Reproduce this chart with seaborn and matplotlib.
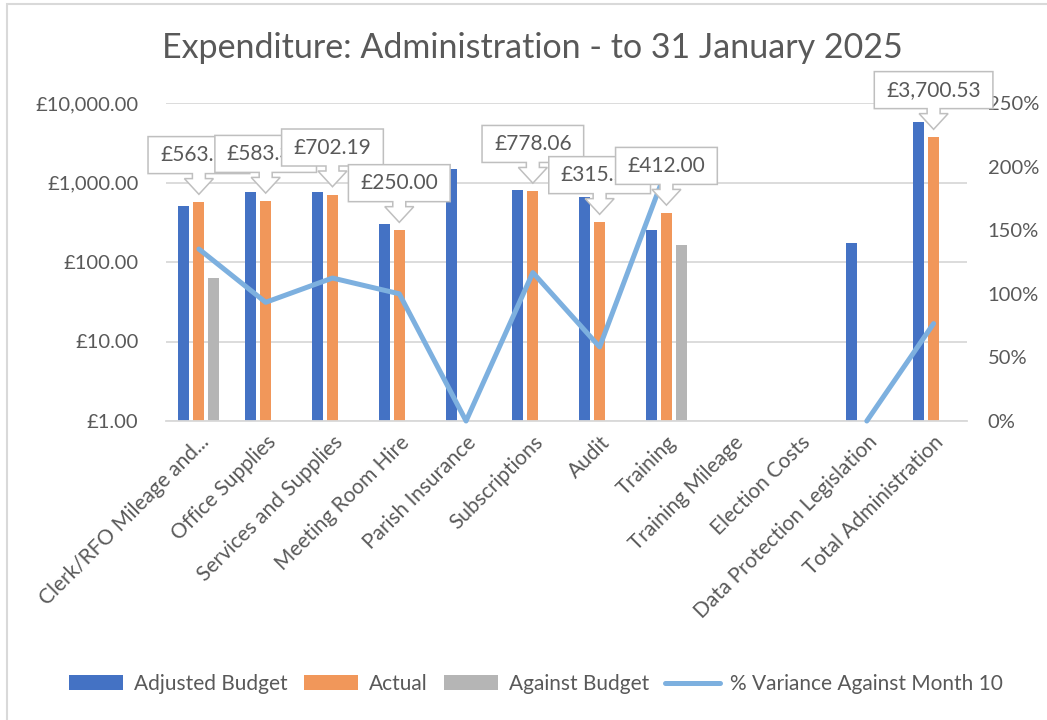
import numpy as np
import pandas as pd
import seaborn as sns
import matplotlib.pyplot as plt
import matplotlib.transforms as mtransforms
from matplotlib.patches import Polygon, Patch, Rectangle
from matplotlib.lines import Line2D
from matplotlib.ticker import FuncFormatter, PercentFormatter, NullLocator

nan = np.nan

# Werte
categories = ["Clerk/RFO Mileage and...", "Office Supplies", "Services and Supplies",
              "Meeting Room Hire", "Parish Insurance", "Subscriptions", "Audit", "Training",
              "Training Mileage", "Election Costs", "Data Protection Legislation",
              "Total Administration"]
adjusted_budget = [500, 750, 750, 300, 1500, 800, 650, 250, nan, nan, 175, 5800]
actual = [563.50, 583.30, 702.19, 250.00, nan, 778.06, 315.50, 412.00, nan, nan, nan, 3700.53]
against_budget = [63.50, nan, nan, nan, nan, nan, nan, 162.00, nan, nan, nan, nan]
variance_pct = [1.352, 0.933, 1.124, 1.000, 0.0, 1.167, 0.582, 1.978, nan, nan, 0.0, 0.766]

series_names = ["Adjusted Budget", "Actual", "Against Budget"]
bar_colors = ["#4472C4", "#F1975A", "#B5B5B5"]
line_color = "#7DB0DF"
line_name = "% Variance Against Month 10"
title = "Expenditure: Administration - to 31 January 2025"
TXT = "#595959"
GRID = "#D9D9D9"

sns.set_theme(style="white")
plt.rcParams['font.family'] = ['Lato', 'DejaVu Sans']

W, H = 1047, 720
fig = plt.figure(figsize=(W / 100, H / 100), dpi=100)
ax = fig.add_axes([165.5 / W, 1 - 421 / H, (967 - 165.5) / W, (421 - 103) / H])

# Balken
df = pd.DataFrame({"category": categories, "Adjusted Budget": adjusted_budget,
                   "Actual": actual, "Against Budget": against_budget})
df = df.melt(id_vars="category", var_name="series", value_name="value")
sns.barplot(data=df, x="category", y="value", hue="series", order=categories,
            hue_order=series_names, palette=bar_colors, width=0.674, gap=0.265,
            errorbar=None, saturation=1, linewidth=0, legend=False, ax=ax)

ax.set_yscale("log")
ax.set_ylim(1, 10000)
ax.set_xlim(-0.5, len(categories) - 0.5)
ax.set_yticks([1, 10, 100, 1000, 10000])
ax.yaxis.set_minor_locator(NullLocator())
ax.yaxis.set_major_formatter(FuncFormatter(lambda v, p: f"£{v:,.2f}"))
ax.grid(axis="y", color=GRID, lw=1.3)
ax.grid(axis="x", visible=False)
ax.set_axisbelow(True)
for s in ["left", "right", "top"]:
    ax.spines[s].set_visible(False)
ax.spines["bottom"].set_color(GRID)
ax.spines["bottom"].set_linewidth(1.3)
ax.tick_params(axis="y", length=0, pad=19.5, labelsize=14.5, labelcolor=TXT)
ax.tick_params(axis="x", length=0, pad=8, labelsize=15, labelcolor=TXT)
ax.set_xlabel("")
ax.set_ylabel("")

# Linie auf der zweiten Achse
ax2 = ax.twinx()
yv = np.array(variance_pct, dtype=float)
line_df = pd.DataFrame({"x": np.arange(len(categories)), "y": yv,
                        "seg": np.cumsum(np.isnan(yv))}).dropna()
sns.lineplot(data=line_df, x="x", y="y", units="seg", estimator=None, color=line_color,
             lw=3.6, legend=False, ax=ax2)
for ln in ax2.lines:
    ln.set_clip_on(False)
    ln.set_solid_joinstyle("round")
    ln.set_solid_capstyle("round")
ax2.set_ylim(0, 2.5)
ax2.set_yticks(np.arange(0, 2.51, 0.5))
ax2.yaxis.set_major_formatter(PercentFormatter(1.0, decimals=0))
ax2.grid(False)
for s in ax2.spines.values():
    s.set_visible(False)
ax2.tick_params(axis="y", length=0, pad=15, labelsize=14.5, labelcolor=TXT)
ax2.set_ylabel("")
ax2.set_xlabel("")

ax.set_xticks(range(len(categories)))
ax.set_xticklabels(categories, rotation=45, ha="right", rotation_mode="anchor")

# Titel, Rahmen, Legende
fig.text(532 / W, 1 - 48 / H, title, ha="center", va="center", fontsize=24.5, color=TXT)
fig.add_artist(Rectangle((7, -20), 1100, H - 4 + 20, transform=mtransforms.IdentityTransform(),
                         fill=False, ec=GRID, lw=1.5))
handles = [Patch(fc=c, ec="none") for c in bar_colors] + [Line2D([], [], color=line_color, lw=3.6)]
fig.legend(handles, series_names + [line_name], loc="center",
           bbox_to_anchor=(536 / W, 1 - 684 / H), ncol=4, frameon=False, fontsize=15,
           handlelength=2.6, handleheight=0.7, handletextpad=0.5, columnspacing=0.8,
           labelcolor=TXT)

# Datenbeschriftungen als Legenden-Pfeile
fig.canvas.draw()
renderer = fig.canvas.get_renderer()
ident = mtransforms.IdentityTransform()
k = 0
for i, v in enumerate(actual):
    if np.isnan(v):
        continue
    cx, ty = ax.transData.transform((i, v))
    ty += 8
    yb = ty + 20.7
    yt = yb + 37
    t = fig.text(cx, (yb + yt) / 2, f"£{v:,.2f}", transform=ident, ha="center",
                 va="center", fontsize=15, color=TXT, zorder=20 + 2 * k + 1)
    w = t.get_window_extent(renderer).width
    hw = w / 2 + 12
    pts = [(cx - hw, yb), (cx - hw, yt), (cx + hw, yt), (cx + hw, yb), (cx + 6.5, yb),
           (cx + 6.5, yb - 5), (cx + 14.5, yb - 5), (cx, ty), (cx - 14.5, yb - 5),
           (cx - 6.5, yb - 5), (cx - 6.5, yb)]
    fig.add_artist(Polygon(pts, closed=True, fc="white", ec="#BFBFBF", lw=1.1,
                           transform=ident, zorder=20 + 2 * k))
    k += 1

fig.savefig("out.png", dpi=100, facecolor="white")
